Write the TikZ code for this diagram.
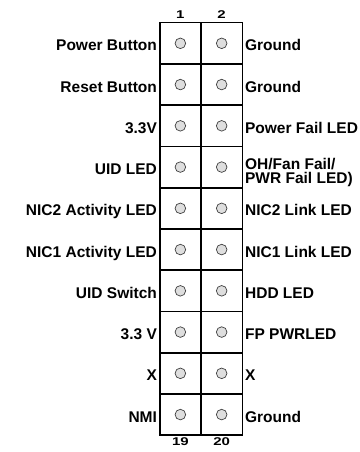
\documentclass[tikz,border=0pt]{standalone}
\usepackage{fontspec}
\setmainfont{Liberation Sans}
\usetikzlibrary{positioning}

\begin{document}
\begin{tikzpicture}[
  x=41.3pt, y=41.25pt,
  cell/.style = {draw,line width=1.6pt,minimum width=41.3pt,minimum height=41.25pt,inner sep=0pt},
  pin/.style = {draw=black!75,fill=black!13,circle,line width=0.7pt,minimum size=10.6pt,inner sep=0pt},
  lbl/.style = {font=\fontsize{15.5}{14.2}\selectfont\bfseries,inner sep=1.8pt,text height=11pt,text depth=0pt,yshift=-2pt},
  num/.style = {font=\fontsize{15}{16}\selectfont\bfseries,inner sep=0pt}
  ]
  \useasboundingbox (-3.867,0.550) rectangle (4.826,-10.407);
  % header cells and pins
  \foreach \r in {1,...,10}{
    \pgfmathtruncatemacro{\odd}{2*\r-1}
    \pgfmathtruncatemacro{\even}{2*\r}
    \node[cell] (c\odd) at (0.5,0.5-\r) {};
    \node[cell] (c\even) at (1.5,0.5-\r) {};
    \node[pin] (p\odd) at (c\odd) {};
    \node[pin] (p\even) at (c\even) {};
  }
  % pin numbers
  \node[num,above=3.6pt of c1] (n1) {\scalebox{1}[0.75]{1}};
  \node[num,above=3.6pt of c2] (n2) {\scalebox{1}[0.75]{2}};
  \node[num,below=1.5pt of c19] (n19) {\scalebox{1}[0.75]{19}};
  \node[num,below=1.5pt of c20] (n20) {\scalebox{1}[0.75]{20}};
  % signal names
  \foreach \n/\t in {1/Power Button, 3/Reset Button, 5/3.3V, 7/UID LED, 9/NIC2 Activity LED,
                     11/NIC1 Activity LED, 13/UID Switch, 15/3.3 V, 17/X, 19/NMI}
    \node[lbl,left=0pt of c\n] (s\n) {\t};
  \foreach \n/\t in {2/Ground, 4/Ground, 6/Power Fail LED, 10/NIC2 Link LED,
                     12/NIC1 Link LED, 14/HDD LED, 16/FP PWRLED, 18/X, 20/Ground}
    \node[lbl,right=0pt of c\n] (s\n) {\t};
  \node[font=\fontsize{15.5}{14.2}\selectfont\bfseries,align=left,inner sep=1.8pt,
        right=0pt of c8,yshift=-5.5pt] (s8) {OH/Fan Fail/\\PWR Fail LED)};
\end{tikzpicture}
\end{document}
